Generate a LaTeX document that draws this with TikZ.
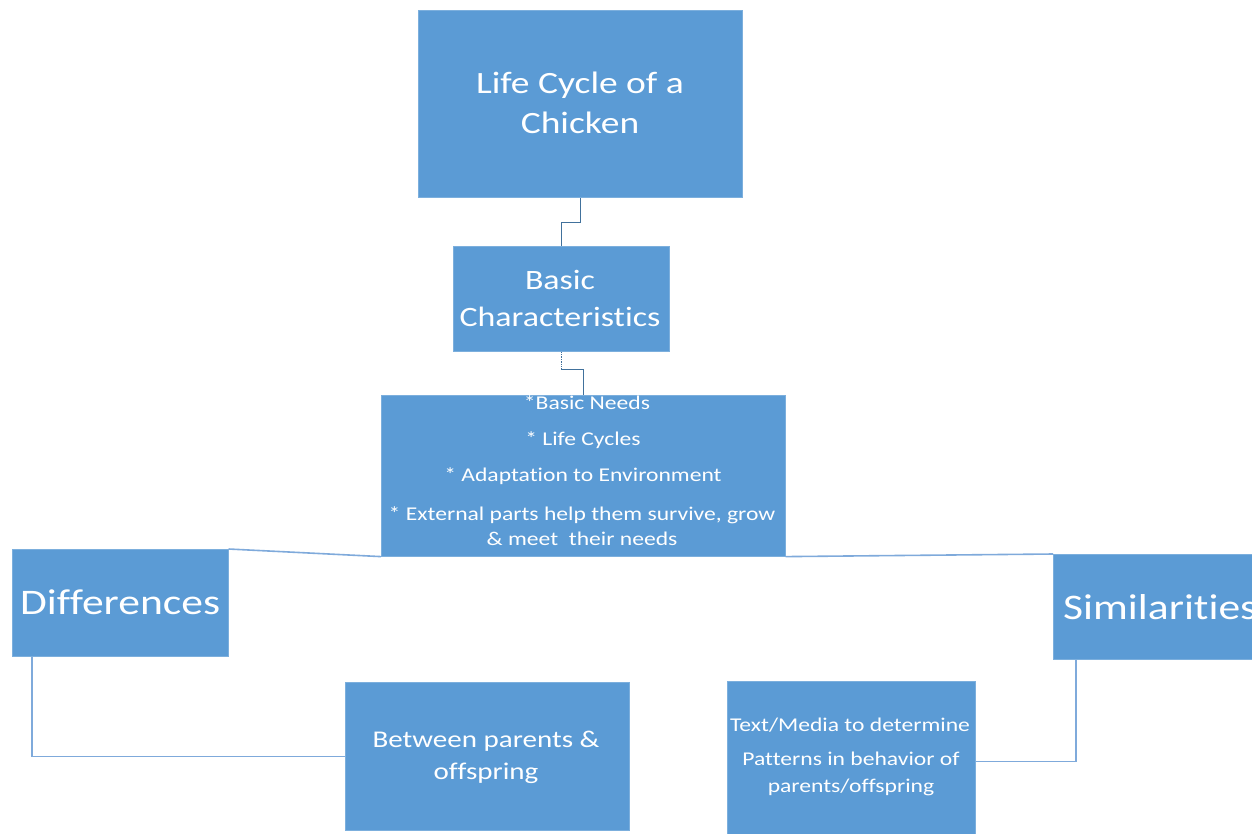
\documentclass[tikz,border=0pt]{standalone}
\usepackage{fontspec}
\setmainfont[FakeStretch=1.21, Ligatures=NoCommon]{Carlito}
\definecolor{boxblue}{HTML}{5B9BD5}
\definecolor{linkdark}{HTML}{41719C}
\definecolor{linklight}{HTML}{7FAADB}
\begin{document}
\begin{tikzpicture}[x=1pt,y=-1pt,
  panel/.style={rectangle, fill=boxblue, draw=boxblue!80!white, line width=0.6pt,
    inner sep=0pt, anchor=north west},
  words/.style={text=white, inner sep=0pt, align=center},
  link/.style={draw=linklight, line width=1.6pt},
  darklink/.style={draw=linkdark, line width=1.4pt}]
\useasboundingbox (0,0) rectangle (1252,833);
\clip (0,0) rectangle (1252,833);

% boxes
\node[panel, minimum width=324pt, minimum height=187pt] (title) at (418,10) {};
\node[panel, minimum width=216pt, minimum height=105pt] (basic) at (453,246) {};
\node[panel, minimum width=404pt, minimum height=161pt] (details) at (381,395) {};
\node[panel, minimum width=216pt, minimum height=107pt] (diff) at (12,549) {};
\node[panel, minimum width=230pt, minimum height=105pt] (sim) at (1053,554) {};
\node[panel, minimum width=284pt, minimum height=148pt] (between) at (345,682) {};
\node[panel, minimum width=248pt, minimum height=160pt] (media) at (727,681) {};

% texts
\node[words, font=\fontsize{31}{40}\selectfont] (titletxt) at (580,103) {Life Cycle of a\\Chicken};
\node[words, font=\fontsize{28}{37}\selectfont] (basictxt) at (560,298) {Basic\\Characteristics};
\node[words, font=\fontsize{19.5}{24}\selectfont] (d1) at (587,403) {*Basic Needs};
\node[words, font=\fontsize{19.5}{24}\selectfont] (d2) at (583,440) {* Life Cycles};
\node[words, font=\fontsize{19.5}{24}\selectfont] (d3) at (583,476) {* Adaptation to Environment};
\node[words, font=\fontsize{19.5}{25}\selectfont] (d4) at (582,526) {* External parts help them survive, grow\\\& meet\ \ their needs};
\node[words, font=\fontsize{36}{40}\selectfont, anchor=west] (difftxt) at (20,602) {Differences};
\node[words, font=\fontsize{36}{40}\selectfont, anchor=west] (simtxt) at (1063,607) {Similarities};
\node[words, font=\fontsize{24}{32}\selectfont] (betweentxt) at (486,757) {Between parents \&\\offspring};
\node[words, font=\fontsize{19.5}{24}\selectfont] (m1) at (850,725) {Text/Media to determine};
\node[words, font=\fontsize{19.5}{27}\selectfont] (m2) at (851,774) {Patterns in behavior of\\parents/offspring};

% connectors
\draw[darklink] (title.south) -- ++(0,25) coordinate (bend1) -| (basic.north);
\draw[darklink, densely dotted] (basic.south) -- ++(0,18) coordinate (bend2);
\draw[darklink] (bend2) -| (details.north);
\draw[link] (diff.north east) -- (details.south west);
\draw[link] (details.south east) -- (sim.north west);
\draw[link] ([xshift=20pt]diff.south west) |- (between.west);
\draw[link] ([xshift=23pt]sim.south west) |- (media.east);
\end{tikzpicture}
\end{document}
